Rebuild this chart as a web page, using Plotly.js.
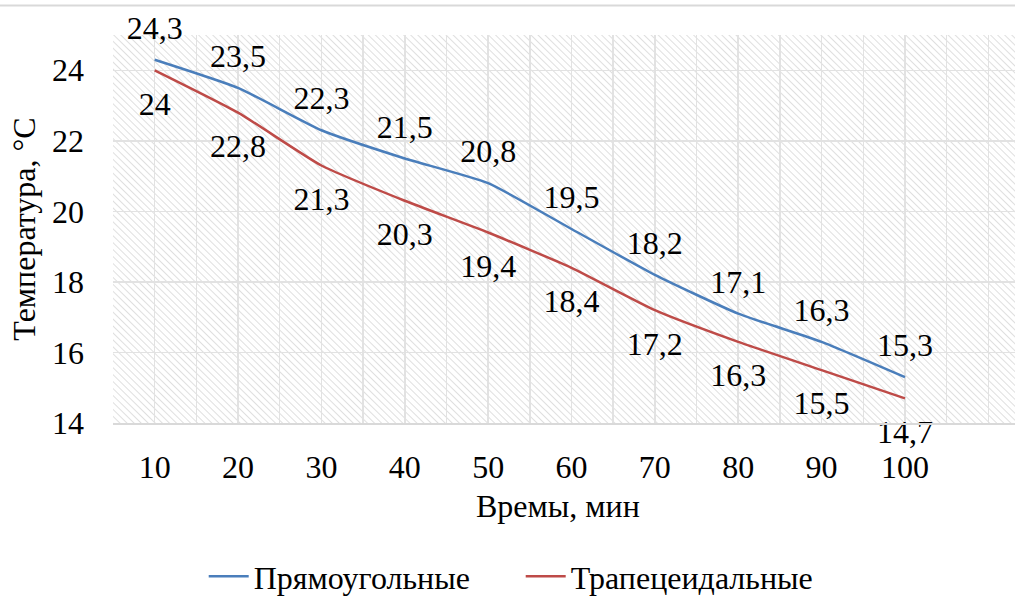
<!DOCTYPE html>
<html>
<head>
<meta charset="utf-8">
<script src="https://cdn.plot.ly/plotly-3.0.1.min.js"></script>
<style>
  html, body { margin: 0; padding: 0; background: #ffffff; }
  #chart text { font-family: 'Liberation Serif', serif !important; }
</style>
</head>
<body>
<div id="chart" style="width:1015px;height:604px"></div>
<script>
// ---- Data ----
const timeMin = [10, 20, 30, 40, 50, 60, 70, 80, 90, 100];
const tickLabels = ['10', '20', '30', '40', '50', '60', '70', '80', '90', '100'];
const seriesNames = ['Прямоугольные', 'Трапецеидальные'];
const rectTemp = [24.3, 23.5, 22.3, 21.5, 20.8, 19.5, 18.2, 17.1, 16.3, 15.3];
const trapTemp = [24.0, 22.8, 21.3, 20.3, 19.4, 18.4, 17.2, 16.3, 15.5, 14.7];

const fmt = v => String(v).replace('.', ',');
const FS = 32;
const F = { family: 'Liberation Serif', size: FS };

const hatchSvg =
  '<svg xmlns="http://www.w3.org/2000/svg" width="902" height="395">' +
  '<defs><pattern id="h" width="5" height="5" patternUnits="userSpaceOnUse" patternTransform="rotate(-45)">' +
  '<rect width="5" height="5" fill="#ffffff"/>' +
  '<line x1="0" y1="0" x2="0" y2="5" stroke="#dcdcdc" stroke-width="1.8"/>' +
  '</pattern></defs>' +
  '<rect width="902" height="395" fill="url(#h)"/></svg>';
const hatchUri = 'data:image/svg+xml;base64,' + btoa(hatchSvg);

const traces = [
  {
    x: timeMin, y: rectTemp, name: seriesNames[0],
    type: 'scatter', mode: 'lines+markers+text',
    line: { color: '#4a7ebb', width: 2.5, shape: 'spline', smoothing: 0.5 },
    marker: { size: 19, color: 'rgba(0,0,0,0)' },
    text: rectTemp.map(fmt), textposition: 'top center',
    textfont: F, cliponaxis: false
  },
  {
    x: timeMin, y: trapTemp, name: seriesNames[1],
    type: 'scatter', mode: 'lines+markers+text',
    line: { color: '#be4b48', width: 2.5, shape: 'spline', smoothing: 0.5 },
    marker: { size: 31, color: 'rgba(0,0,0,0)' },
    text: trapTemp.map(fmt), textposition: 'bottom center',
    textfont: F, cliponaxis: false
  }
];

const layout = {
  width: 1015, height: 604,
  margin: { l: 113, r: 0, t: 35, b: 174 },
  paper_bgcolor: '#ffffff',
  plot_bgcolor: 'rgba(0,0,0,0)',
  font: { family: 'Liberation Serif', size: FS, color: '#000' },
  showlegend: true,
  legend: {
    orientation: 'h', x: 0.452, xanchor: 'center', y: -0.397, yanchor: 'middle',
    font: F, itemwidth: 40, entrywidth: 262, bgcolor: 'rgba(0,0,0,0)'
  },
  xaxis: {
    range: [5, 113.2],
    tickmode: 'array', tickvals: timeMin, ticktext: tickLabels,
    showgrid: false, zeroline: false,
    showline: true, linecolor: '#d9d9d9', linewidth: 2,
    ticks: '', ticklabelstandoff: 15,
    tickfont: F,
    minor: { tickmode: 'linear', tick0: 5, dtick: 5, showgrid: true, gridcolor: '#e2e2e2', gridwidth: 1.5, ticks: '' }
  },
  yaxis: {
    range: [14, 25],
    tickmode: 'linear', tick0: 14, dtick: 2,
    showgrid: true, gridcolor: '#e2e2e2', gridwidth: 1.5,
    zeroline: false, showline: false, ticks: '',
    ticklabelstandoff: 28,
    tickfont: F,
    title: { text: 'Температура, °С', font: F, standoff: 6 }
  },
  images: [{
    source: hatchUri, xref: 'paper', yref: 'paper', x: 0, y: 1,
    sizex: 1, sizey: 1, sizing: 'stretch', xanchor: 'left', yanchor: 'top', layer: 'below'
  }],
  annotations: [{
    text: 'Времы, мин', xref: 'paper', yref: 'paper',
    x: (558 - 113) / 902, y: (430 - 515) / 395, xanchor: 'center', yanchor: 'middle',
    showarrow: false, font: F
  }],
  shapes: [{
    type: 'line', xref: 'paper', yref: 'paper',
    x0: -113 / 902, x1: 1, y0: 1 + 30 / 395, y1: 1 + 30 / 395,
    line: { color: '#d9d9d9', width: 2 }
  }]
};

Plotly.newPlot('chart', traces, layout, { displayModeBar: false, staticPlot: true });
</script>
</body>
</html>
